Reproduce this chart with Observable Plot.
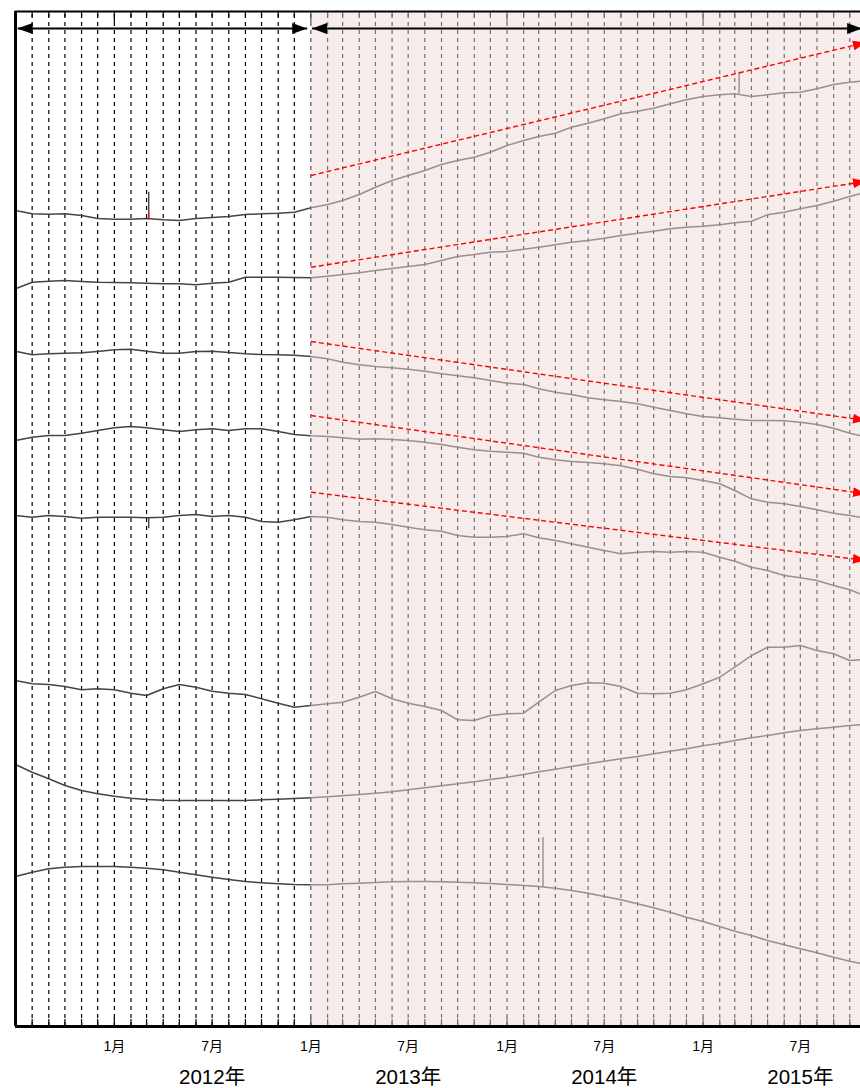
<!DOCTYPE html>
<html><head><meta charset="utf-8">
<script src="https://cdn.jsdelivr.net/npm/d3@7"></script>
<script src="https://cdn.jsdelivr.net/npm/@observablehq/plot@0.6"></script>
<style>
html,body{margin:0;padding:0;background:#fff;overflow:hidden;}
#chart svg{display:block;overflow:hidden;}
</style></head><body><div id="chart"></div>
<script>
// ---- data (displacement, mm; positive = up) ----
const startDate = "2011-07-01";
const endDate = "2015-10-21";
const lastSample = "2015-10-20";
const shadeStart = "2013-01-01";
const seriesNames = ["S1", "S2", "S3", "S4", "S5", "S6", "S7", "S8"];
const offsets = [816, 737.7, 675.3, 586, 511, 346, 262, 150];

const s1 = [0, -3.3, -3.7, -3.3, -5, -8, -8.7, -8.7, -8, -9.3, -10, -8, -7, -6, -4, -3.3, -2.7, -1.7, 2.7, 6, 10, 16, 23.3, 30, 35, 40, 46, 50, 53.3, 58.3, 65, 70, 74, 77.3, 83.3, 87.3, 91.7, 96.7, 99.3, 102.3, 106.7, 110.7, 114, 115.7, 116.7, 114, 115.7, 117.7, 118.3, 121.7, 126, 128.3, 129.3];
const s2 = [0, 6.6, 7.6, 8.3, 7.3, 6.6, 6.3, 6, 5.6, 5, 5, 4, 5.6, 6.6, 11.6, 11.6, 11.6, 11.3, 11, 12.6, 14.3, 16, 18.3, 20.3, 22.3, 24.3, 28.3, 32.3, 34.3, 36.6, 37.3, 39.6, 41.6, 44, 46.6, 48.3, 50.6, 53.3, 55.6, 57.6, 60, 61.6, 62.6, 64, 66, 67.6, 74, 76.6, 80, 83.3, 87.6, 92.3, 95];
const s3 = [0, -3.6, -2.6, -2, -1.6, -0.3, 1.4, 2, 0, -2, -2, -0.3, 0, -1.3, -2.6, -3.3, -3.6, -4, -5.3, -7.6, -11, -13.6, -15.3, -16.6, -18, -20, -22.6, -24.6, -26.6, -29.3, -32, -33.3, -37.6, -41, -43.3, -46.6, -48.6, -50.3, -52.6, -56, -59.3, -62.6, -65.3, -66.6, -68, -69.3, -69.3, -69.6, -71, -73.3, -77, -82, -84.3];
const s4 = [0, 3.3, 5, 5, 7.3, 10, 12.7, 14, 12.7, 10.7, 9, 10.7, 11.7, 10, 11.7, 11.7, 9, 6, 4.7, 4, 2.7, 1.3, 1.7, 1, 0, -1.7, -4, -6.7, -9.3, -10.7, -11.7, -12.7, -16.7, -19.3, -21, -22, -23.3, -25.3, -28.7, -33.3, -36, -37.3, -40, -43.3, -50, -58.3, -61.7, -63.3, -66, -69.3, -72.7, -75, -76.7];
const s5 = [0, -1.7, 0, -1, -2.7, -1.7, -1.7, -1.7, -2.3, -1.7, 0, 1, -1, 0, -1.7, -6, -6.7, -4.3, -1, -1.7, -4.3, -6, -6.7, -9, -11.7, -14.3, -15.7, -20, -21.7, -21.7, -21, -18.3, -22.3, -25, -28.3, -31.7, -35, -38.3, -36.7, -36, -36.7, -36, -36.7, -41.7, -45.7, -51.7, -55, -60, -62.3, -65, -70, -74.3, -78.3];
const s6 = [0, -3.3, -4, -6, -9.3, -8.3, -9.3, -12.7, -15, -8.3, -4, -6.7, -10.7, -12.7, -14, -18.3, -22.7, -26.7, -25, -23.3, -21.7, -16.7, -11, -18.3, -22.7, -26, -30, -39.3, -40, -35, -33.3, -32.7, -21.7, -10, -5, -2.3, -2.7, -6, -12.7, -13.3, -12.7, -9.3, -3.3, 3.3, 13.3, 25, 33.3, 33.3, 35, 30, 26.7, 20, 20.7];
const s7 = [0, -7.7, -14.3, -21, -26, -29.3, -31.7, -33.7, -35, -35.7, -36, -36, -36, -36, -36, -35.3, -34.7, -34, -33.3, -32.3, -31.3, -30, -28.7, -27.3, -25.3, -23.3, -21.3, -19.3, -17.3, -15, -12.7, -10, -7.3, -4.7, -2, 0.7, 3.3, 5.7, 8, 10.7, 13.3, 15.7, 18.7, 21.3, 24, 26.7, 29, 31.7, 34, 35.7, 37.3, 39, 39.7];
const s8 = [0, 4.3, 7.7, 9.3, 10, 10, 10, 9.3, 8.3, 6.7, 4.3, 1.7, -0.7, -3, -5, -6.3, -7.3, -8, -8.3, -8.3, -7.3, -6.7, -6, -5.3, -5, -5, -5.3, -5.7, -6.3, -7, -8, -9, -10, -11.7, -14, -16.7, -20, -23.3, -27.3, -31.3, -35.7, -40.7, -45, -50, -54.7, -59, -64, -68.3, -72.3, -76.3, -80.7, -84.7, -86.7];
const seriesValues = [s1, s2, s3, s4, s5, s6, s7, s8];

// outliers (spikes)
const spikeSeries = [0, 0, 4, 7];
const spikeDates = ["2012-03-05", "2015-03-09", "2012-03-05", "2014-03-09"];
const spikeFrom = [-8, 116.7, -2, -10.5];
const spikeTo = [18.3, 138.3, -13.3, 38.7];
const redSeries = [0];
const redDates = ["2012-03-05"];
const redFrom = [-8.3];
const redTo = [-1.7];

// trend arrows (relative to their series)
const trendSeries = [0, 1, 2, 3, 4];
const trendStartDate = "2013-01-01";
const trendEndDate = "2015-10-31";
const trendStartVal = [35, 21.6, 9.7, 25, 23.3];
const trendEndVal = [168, 107.5, -69.3, -53.4, -44.9];

// period arrows on top
const periodStart = ["2011-07-05", "2013-01-03"];
const periodEnd = ["2012-12-25", "2015-10-24"];
const periodLevel = 998;

// axis labels
const monthTicks = ["2012-01-01", "2012-07-01", "2013-01-01", "2013-07-01", "2014-01-01", "2014-07-01", "2015-01-01", "2015-07-01"];
const monthLabels = ["1月", "7月", "1月", "7月", "1月", "7月", "1月", "7月"];
const yearTicks = ["2012-07-01", "2013-07-01", "2014-07-01", "2015-07-01"];
const yearLabels = ["2012年", "2013年", "2014年", "2015年"];

// ---- build tables ----
const D = s => new Date(s);
const sampleDates = d3.utcMonth.range(D(startDate), D("2015-10-02"));
sampleDates.push(D(lastSample));
const rows = seriesValues.flatMap((vals, i) => vals.map((v, j) => ({series: seriesNames[i], date: sampleDates[j], value: offsets[i] + v})));
const spikes = spikeDates.map((d, i) => ({date: D(d), y1: offsets[spikeSeries[i]] + spikeFrom[i], y2: offsets[spikeSeries[i]] + spikeTo[i]}));
const reds = redDates.map((d, i) => ({date: D(d), y1: offsets[redSeries[i]] + redFrom[i], y2: offsets[redSeries[i]] + redTo[i]}));
const trends = trendSeries.map((s, i) => ({x1: D(trendStartDate), x2: D(trendEndDate), y1: offsets[s] + trendStartVal[i], y2: offsets[s] + trendEndVal[i]}));
const periods = periodStart.map((d, i) => ({x1: D(d), x2: D(periodEnd[i]), y: periodLevel}));
const gridDates = d3.utcMonth.range(D("2011-08-01"), D(endDate));
const monthLabelOf = new Map(monthTicks.map((t, i) => [+D(t), monthLabels[i]]));
const yearLabelOf = new Map(yearTicks.map((t, i) => [+D(t), yearLabels[i]]));
const TOP = 1015;

const font = '"Liberation Sans", Arial, "Noto Sans CJK JP", sans-serif';
const chart = Plot.plot({
  width: 860, height: 1088,
  marginLeft: 15, marginRight: 0, marginTop: 11, marginBottom: 62,
  x: {type: "utc", domain: [D(startDate), D(endDate)], axis: null},
  y: {domain: [0, TOP], axis: null},
  style: {background: "white", fontFamily: font, color: "#000"},
  marks: [
    Plot.ruleX(gridDates, {x: d => d, y1: () => 0, y2: () => TOP, stroke: "#000", strokeWidth: 1.2, strokeDasharray: "4,4"}),
    Plot.ruleX(gridDates, {x: d => d, y1: () => TOP, y2: d => d.getUTCMonth() === 0 ? TOP - 11 : TOP - 6, stroke: "#000", strokeWidth: 1.2}),
    Plot.ruleX(gridDates, {x: d => d, y1: () => 0, y2: d => d.getUTCMonth() === 0 ? 9 : 7, stroke: "#000", strokeWidth: 1.2}),
    Plot.line(rows, {x: "date", y: "value", z: "series", stroke: "#444", strokeWidth: 1.5}),
    Plot.ruleX(spikes, {x: "date", y1: "y1", y2: "y2", stroke: "#444", strokeWidth: 1.4}),
    Plot.ruleX(reds, {x: "date", y1: "y1", y2: "y2", stroke: "#ff0000", strokeWidth: 1.2}),
    Plot.rect([0], {x1: () => D(shadeStart), x2: () => D(endDate), y1: () => 0, y2: () => TOP, fill: "rgb(240,217,217)", fillOpacity: 0.5}),
    Plot.link(trends, {x1: "x1", y1: "y1", x2: "x2", y2: "y2", stroke: "#ff0000", strokeWidth: 1.4, strokeDasharray: "5,3", ariaDescription: "trend"}),
    Plot.link(periods, {x1: "x1", y1: "y", x2: "x2", y2: "y", stroke: "#000", strokeWidth: 2.2, ariaDescription: "period"}),
    Plot.ruleY([0], {stroke: "#000", strokeWidth: 3}),
    Plot.ruleY([TOP], {stroke: "#000", strokeWidth: 2}),
    Plot.ruleX([D(startDate)], {stroke: "#000", strokeWidth: 3}),
    Plot.axisX(monthTicks.map(D), {anchor: "bottom", tickSize: 0, tickPadding: 15, tickFormat: d => monthLabelOf.get(+d), fontSize: 14, fontFamily: font, fill: "#000"}),
    Plot.axisX(yearTicks.map(D), {anchor: "bottom", tickSize: 0, tickPadding: 43, tickFormat: d => yearLabelOf.get(+d), fontSize: 20.5, fontFamily: font, fill: "#000"})
  ]
});

// arrowheads (filled triangles)
const ns = "http://www.w3.org/2000/svg";
const defs = document.createElementNS(ns, "defs");
function addMarker(id, color, w, h) {
  const m = document.createElementNS(ns, "marker");
  m.setAttribute("id", id);
  m.setAttribute("viewBox", `0 0 ${w} ${h}`);
  m.setAttribute("refX", w);
  m.setAttribute("refY", h / 2);
  m.setAttribute("markerWidth", w);
  m.setAttribute("markerHeight", h);
  m.setAttribute("markerUnits", "userSpaceOnUse");
  m.setAttribute("orient", "auto-start-reverse");
  const p = document.createElementNS(ns, "path");
  p.setAttribute("d", `M0,0L${w},${h / 2}L0,${h}Z`);
  p.setAttribute("fill", color);
  p.setAttribute("stroke", "none");
  m.appendChild(p);
  defs.appendChild(m);
}
addMarker("ah-red", "#ff0000", 13, 10);
addMarker("ah-black", "#000", 15, 11);
chart.insertBefore(defs, chart.firstChild);
chart.querySelectorAll('g[aria-description="trend"] path').forEach(p => {
  p.setAttribute("marker-end", "url(#ah-red)");
  p.setAttribute("stroke-dasharray", "5,3");
});
chart.querySelectorAll('g[aria-description="period"] path').forEach(p => {
  p.setAttribute("marker-start", "url(#ah-black)");
  p.setAttribute("marker-end", "url(#ah-black)");
});
document.getElementById("chart").appendChild(chart);
</script></body></html>
